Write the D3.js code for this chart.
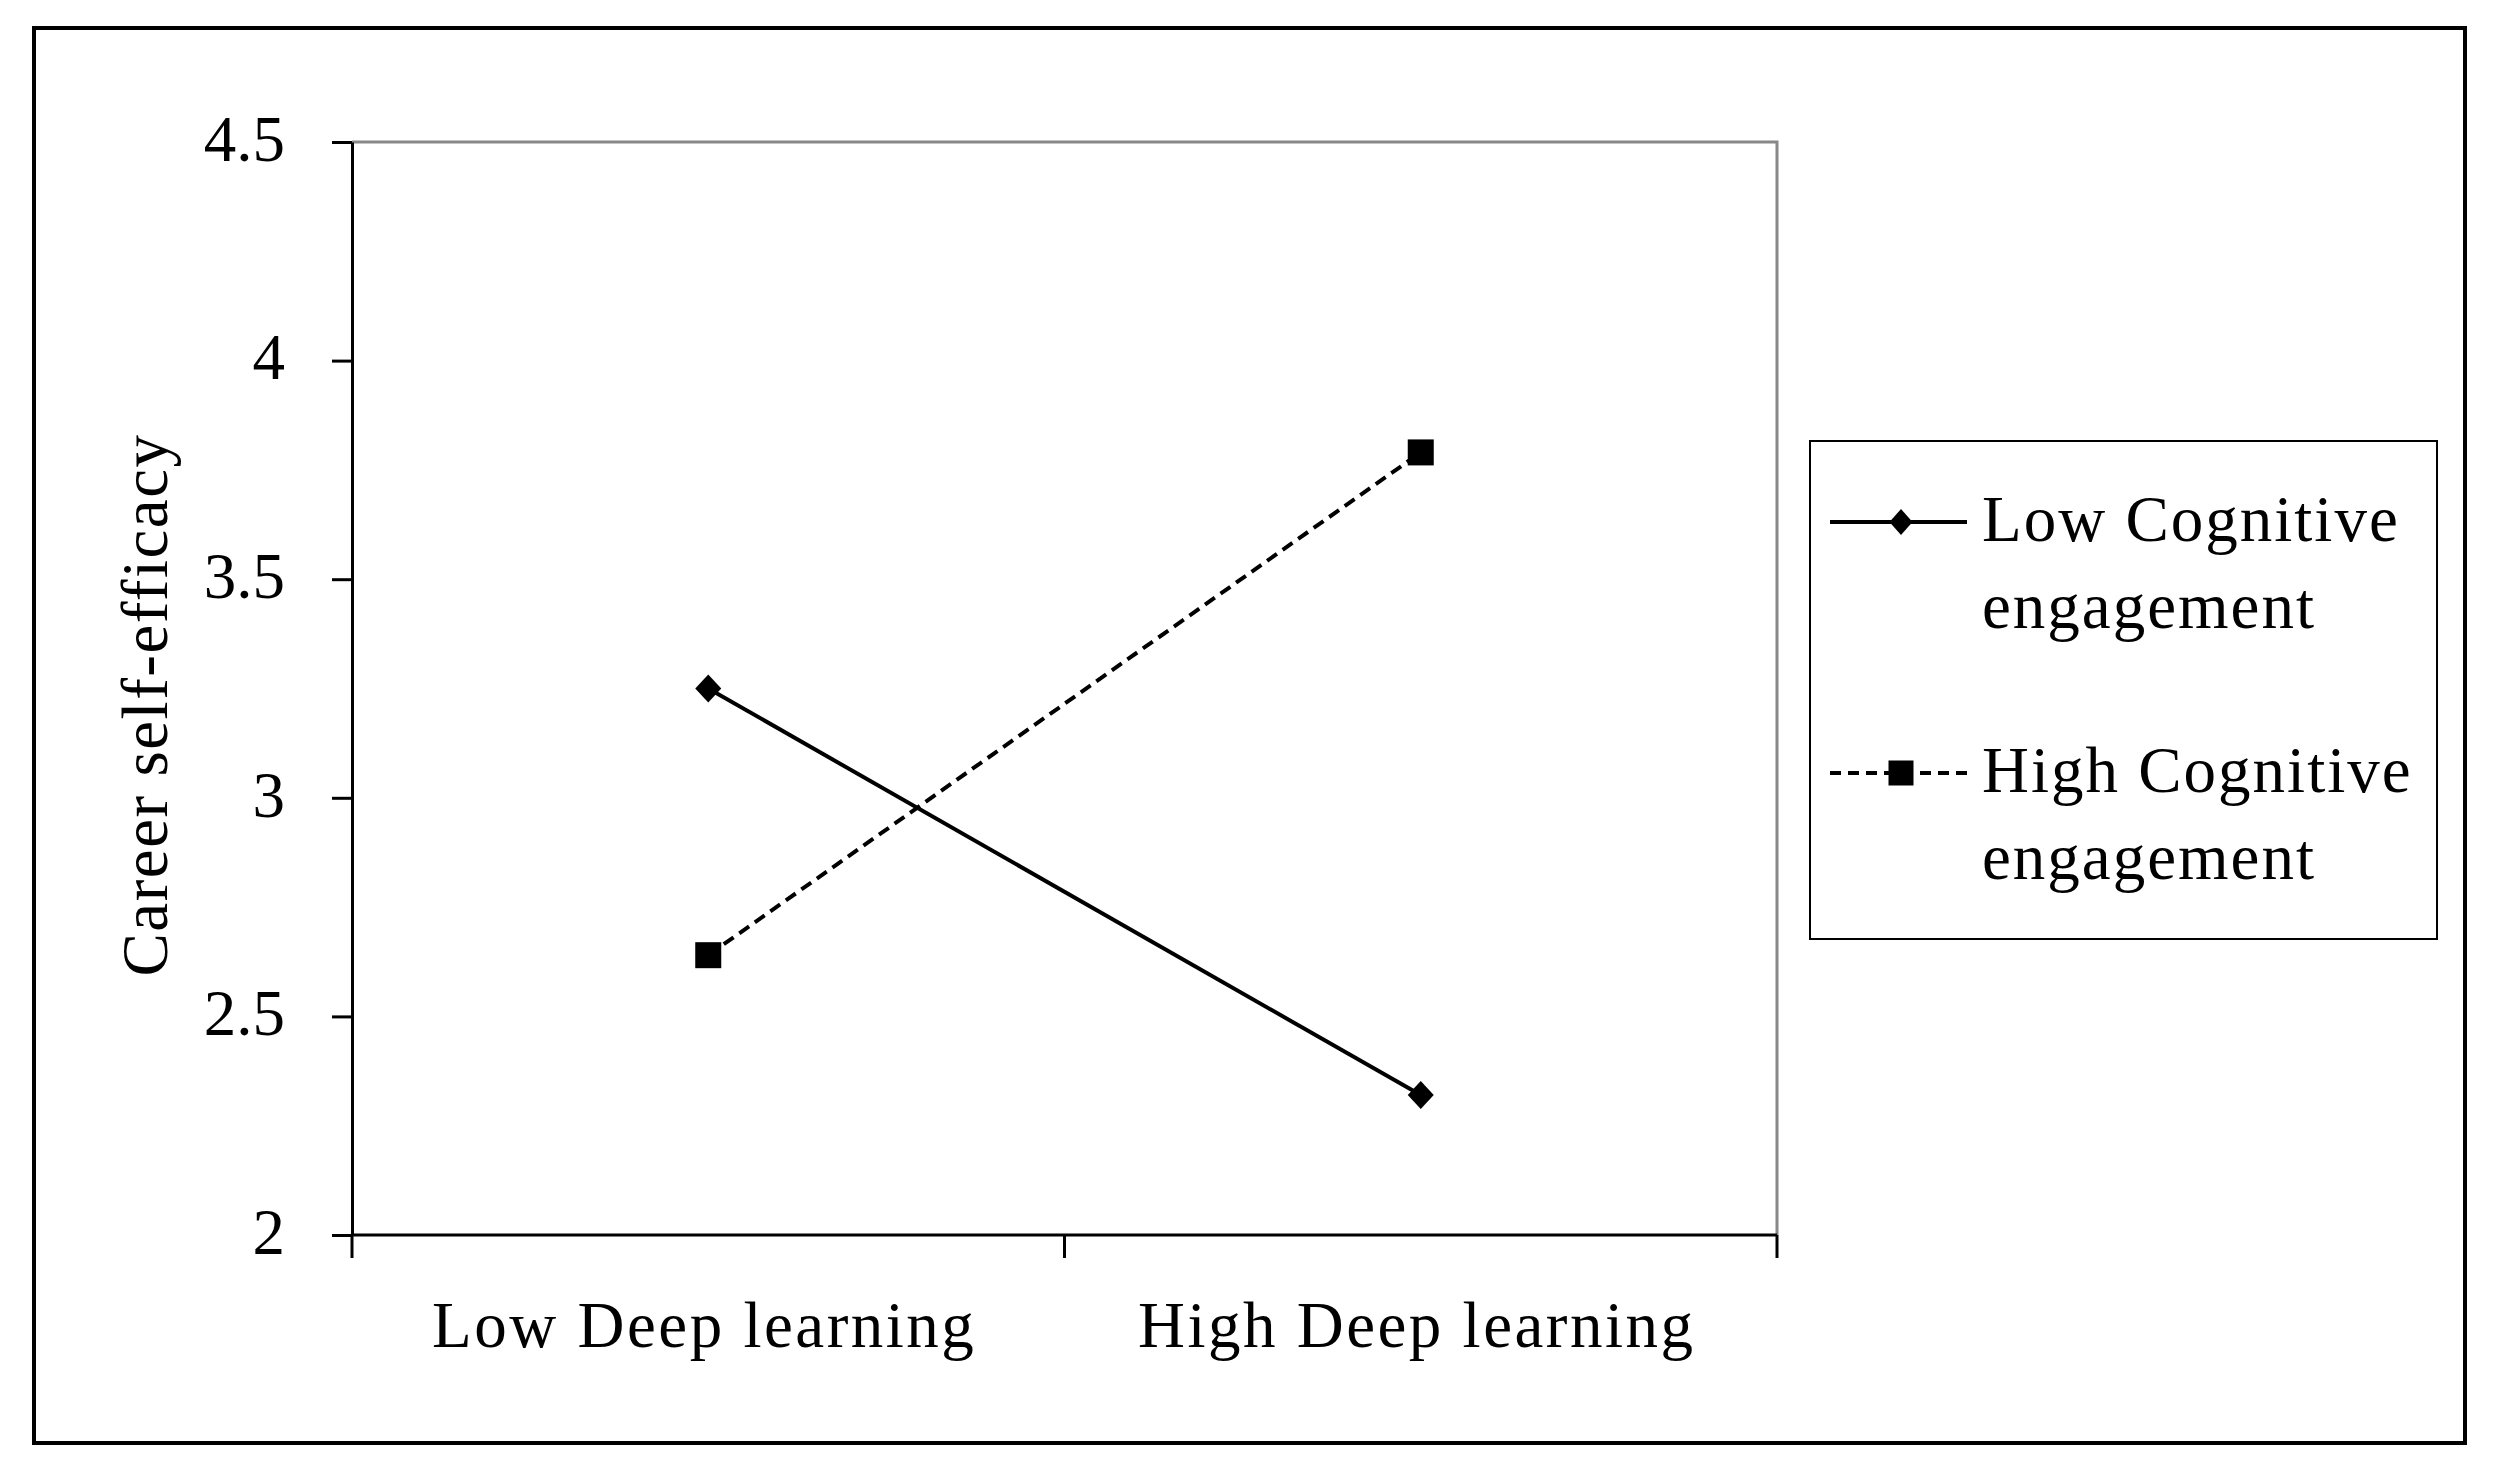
<!DOCTYPE html>
<html>
<head>
<meta charset="utf-8">
<script src="https://cdn.jsdelivr.net/npm/d3@7"></script>
<style>
  body { margin: 0; background: #fff; }
  svg text { font-family: "Liberation Serif", "Times New Roman", serif; fill: #000; }
</style>
</head>
<body>
<div id="chart"></div>
<script>
// categories on the x axis
const categories = ["Low Deep learning", "High Deep learning"];

// one series per level of the moderator
const seriesNames = ["Low Cognitive engagement", "High Cognitive engagement"];
const lowCognitive = [3.25, 2.32];
const highCognitive = [2.64, 3.79];

// y axis ticks
const yTicks = [2, 2.5, 3, 3.5, 4, 4.5];
const yTickLabels = ["2", "2.5", "3", "3.5", "4", "4.5"];

const yTitle = "Career self-efficacy";

const width = 2498;
const height = 1466;

// plot area
const plotLeft = 352, plotRight = 1777, plotTop = 142, plotBottom = 1235;

const svg = d3.select("#chart")
    .append("svg")
    .attr("width", width)
    .attr("height", height);

// outer frame
svg.append("rect")
    .attr("x", 34).attr("y", 28)
    .attr("width", 2431).attr("height", 1415)
    .attr("fill", "none")
    .attr("stroke", "#000")
    .attr("stroke-width", 4);

const x = d3.scaleBand()
    .domain(categories)
    .range([plotLeft, plotRight])
    .padding(0);

const y = d3.scaleLinear()
    .domain([2, 4.5])
    .range([plotBottom, plotTop]);

// grey top and right border of the plot area
svg.append("path")
    .attr("d", `M${plotLeft},${y(4.5)}H${plotRight}V${y(2)}`)
    .attr("fill", "none")
    .attr("stroke", "#888")
    .attr("stroke-width", 3);

// y axis
const yAxis = svg.append("g")
    .attr("transform", `translate(${plotLeft},0)`)
    .call(d3.axisLeft(y)
        .tickValues(yTicks)
        .tickFormat((d, i) => yTickLabels[i])
        .tickSize(20)
        .tickSizeOuter(0)
        .tickPadding(47));

yAxis.select(".domain").attr("stroke", "#000").attr("stroke-width", 3);
yAxis.selectAll(".tick line").attr("stroke", "#000").attr("stroke-width", 3);
yAxis.selectAll(".tick text")
    .attr("dy", "0.28em")
    .style("font-size", "65px")
    .style("font-family", "'Liberation Serif', serif");

// x axis line
svg.append("line")
    .attr("x1", plotLeft).attr("x2", plotRight)
    .attr("y1", y(2)).attr("y2", y(2))
    .attr("stroke", "#000")
    .attr("stroke-width", 3);

// x ticks sit on the band edges
const edges = categories.map((c) => x(c)).concat([x(categories[categories.length - 1]) + x.bandwidth()]);
svg.selectAll(".xtick")
    .data(edges)
    .enter().append("line")
    .attr("class", "xtick")
    .attr("x1", (d) => d).attr("x2", (d) => d)
    .attr("y1", y(2)).attr("y2", y(2) + 23)
    .attr("stroke", "#000")
    .attr("stroke-width", 3);

// x labels
svg.selectAll(".xlabel")
    .data(categories)
    .enter().append("text")
    .attr("class", "xlabel")
    .attr("x", (d) => x(d) + x.bandwidth() / 2 - 4)
    .attr("y", y(2) + 112)
    .attr("text-anchor", "middle")
    .style("font-size", "65px")
    .style("letter-spacing", "2.5px")
    .text((d) => d);

// y title
svg.append("text")
    .attr("transform", `translate(167,705) rotate(-90)`)
    .attr("text-anchor", "middle")
    .style("font-size", "65px")
    .style("letter-spacing", "1.5px")
    .text(yTitle);

const cx = (c) => x(c) + x.bandwidth() / 2;

const line = d3.line()
    .x((d) => cx(d.cat))
    .y((d) => y(d.value));

const lowData = categories.map((c, i) => ({ cat: c, value: lowCognitive[i] }));
const highData = categories.map((c, i) => ({ cat: c, value: highCognitive[i] }));

const diamond = "M0,-14L13,0L0,14L-13,0Z";

// low cognitive engagement: solid line with diamonds
svg.append("path")
    .datum(lowData)
    .attr("d", line)
    .attr("fill", "none")
    .attr("stroke", "#000")
    .attr("stroke-width", 4);

svg.selectAll(".diamond")
    .data(lowData)
    .enter().append("path")
    .attr("class", "diamond")
    .attr("d", diamond)
    .attr("transform", (d) => `translate(${cx(d.cat)},${y(d.value)})`)
    .attr("fill", "#000");

// high cognitive engagement: dashed line with squares
svg.append("path")
    .datum(highData)
    .attr("d", line)
    .attr("fill", "none")
    .attr("stroke", "#000")
    .attr("stroke-width", 4)
    .attr("stroke-dasharray", "12,7");

svg.selectAll(".square")
    .data(highData)
    .enter().append("rect")
    .attr("class", "square")
    .attr("x", (d) => cx(d.cat) - 13)
    .attr("y", (d) => y(d.value) - 13)
    .attr("width", 26).attr("height", 26)
    .attr("fill", "#000");

// legend
const legend = svg.append("g");

legend.append("rect")
    .attr("x", 1810).attr("y", 441)
    .attr("width", 627).attr("height", 498)
    .attr("fill", "#fff")
    .attr("stroke", "#000")
    .attr("stroke-width", 2);

const legendRows = [
    { name: seriesNames[0], dash: null, marker: "diamond", y: 522 },
    { name: seriesNames[1], dash: "11,7", marker: "square", y: 773 },
];

legendRows.forEach((r) => {
    legend.append("line")
        .attr("x1", 1830).attr("x2", 1967)
        .attr("y1", r.y).attr("y2", r.y)
        .attr("stroke", "#000")
        .attr("stroke-width", 4)
        .attr("stroke-dasharray", r.dash);

    if (r.marker === "diamond") {
        legend.append("path")
            .attr("d", "M0,-13L11.5,0L0,13L-11.5,0Z")
            .attr("transform", `translate(1901,${r.y})`)
            .attr("fill", "#000");
    } else {
        legend.append("rect")
            .attr("x", 1901 - 12.5).attr("y", r.y - 12.5)
            .attr("width", 25).attr("height", 25)
            .attr("fill", "#000");
    }

    // wrap the name after the second word
    const words = r.name.split(" ");
    const t = legend.append("text")
        .attr("x", 1982)
        .attr("y", r.y + 19)
        .style("font-size", "65px")
        .style("letter-spacing", "2px");
    t.append("tspan").attr("x", 1982).text(words.slice(0, 2).join(" "));
    t.append("tspan").attr("x", 1982).attr("dy", 87).text(words.slice(2).join(" "));
});
</script>
</body>
</html>
